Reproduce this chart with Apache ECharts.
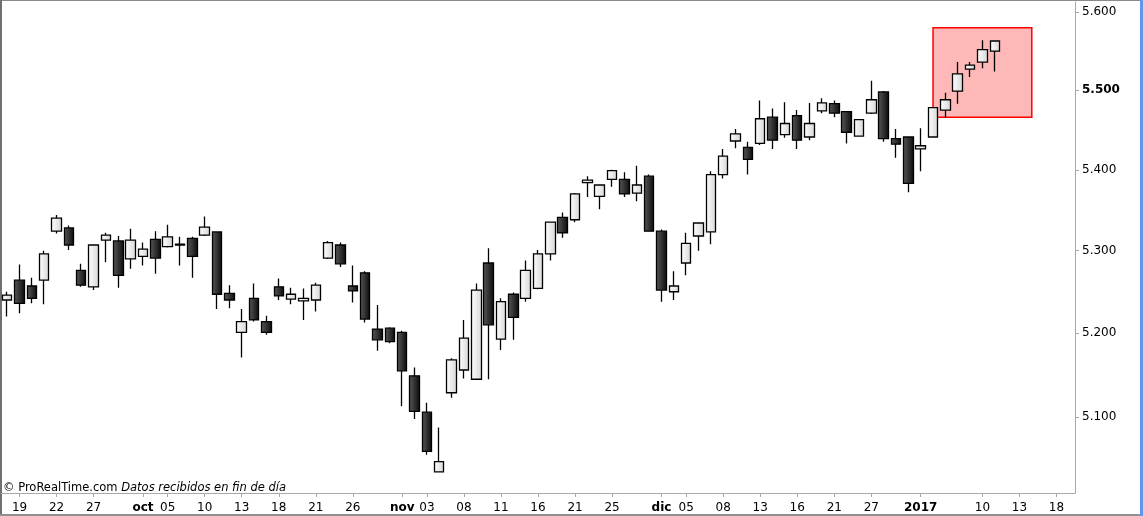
<!DOCTYPE html>
<html>
<head>
<meta charset="utf-8">
<script src="https://cdn.jsdelivr.net/npm/echarts@6/dist/echarts.min.js"></script>
<style>
html,body{margin:0;padding:0;background:#fff;}
#main{width:1143px;height:516px;}
</style>
</head>
<body>
<div id="main"></div>
<script>
// Trading days (categories), incl. empty future slots on the right
const dates = [
 '2016-09-16','2016-09-19','2016-09-20','2016-09-21','2016-09-22','2016-09-23','2016-09-26','2016-09-27','2016-09-28','2016-09-29','2016-09-30',
 '2016-10-03','2016-10-04','2016-10-05','2016-10-06','2016-10-07','2016-10-10','2016-10-11','2016-10-12','2016-10-13','2016-10-14',
 '2016-10-17','2016-10-18','2016-10-19','2016-10-20','2016-10-21','2016-10-24','2016-10-25','2016-10-26','2016-10-27','2016-10-28','2016-10-31',
 '2016-11-01','2016-11-02','2016-11-03','2016-11-04','2016-11-07','2016-11-08','2016-11-09','2016-11-10','2016-11-11',
 '2016-11-14','2016-11-15','2016-11-16','2016-11-17','2016-11-18','2016-11-21','2016-11-22','2016-11-23','2016-11-25',
 '2016-11-28','2016-11-29','2016-11-30','2016-12-01','2016-12-02','2016-12-05','2016-12-06','2016-12-07','2016-12-08','2016-12-09',
 '2016-12-12','2016-12-13','2016-12-14','2016-12-15','2016-12-16','2016-12-19','2016-12-20','2016-12-21','2016-12-22','2016-12-23',
 '2016-12-27','2016-12-28','2016-12-29','2016-12-30','2017-01-03','2017-01-04','2017-01-05','2017-01-06','2017-01-09','2017-01-10','2017-01-11',
 '2017-01-12','2017-01-13','2017-01-16','2017-01-17','2017-01-18','2017-01-19'
];
const opens = [5.240,5.264,5.257,5.264,5.324,5.328,5.276,5.256,5.313,5.312,5.290,
 5.293,5.314,5.305,5.308,5.315,5.319,5.323,5.248,5.201,5.242,
 5.214,5.256,5.241,5.239,5.240,5.291,5.307,5.257,5.273,5.205,5.206,
 5.201,5.149,5.106,5.036,5.129,5.156,5.145,5.285,5.193,
 5.247,5.242,5.254,5.296,5.341,5.338,5.384,5.367,5.388,
 5.388,5.371,5.392,5.324,5.250,5.285,5.318,5.323,5.394,5.436,
 5.428,5.433,5.466,5.444,5.468,5.441,5.474,5.483,5.473,5.442,
 5.471,5.498,5.439,5.441,5.426,5.441,5.475,5.499,5.527,5.536,5.550];
const closes = [5.246,5.236,5.242,5.296,5.340,5.307,5.258,5.307,5.319,5.270,5.313,
 5.302,5.291,5.317,5.307,5.293,5.329,5.247,5.240,5.214,5.216,
 5.201,5.245,5.247,5.242,5.258,5.310,5.284,5.251,5.217,5.192,5.190,
 5.155,5.107,5.060,5.048,5.168,5.194,5.252,5.210,5.238,
 5.219,5.276,5.296,5.335,5.322,5.370,5.387,5.381,5.399,
 5.370,5.381,5.324,5.252,5.257,5.309,5.334,5.394,5.417,5.445,
 5.413,5.464,5.437,5.458,5.437,5.458,5.484,5.471,5.447,5.463,
 5.488,5.439,5.432,5.383,5.430,5.478,5.488,5.521,5.532,5.552,5.563];
const lows = [5.220,5.224,5.236,5.235,5.321,5.301,5.256,5.252,5.286,5.255,5.278,
 5.282,5.272,5.304,5.282,5.267,5.318,5.229,5.230,5.171,5.214,
 5.198,5.240,5.235,5.216,5.226,5.290,5.280,5.237,5.213,5.179,5.188,
 5.113,5.098,5.056,5.036,5.123,5.146,5.145,5.145,5.180,
 5.192,5.238,5.253,5.288,5.316,5.335,5.366,5.351,5.379,
 5.366,5.361,5.324,5.238,5.240,5.270,5.300,5.308,5.389,5.427,
 5.394,5.431,5.426,5.440,5.426,5.437,5.471,5.466,5.433,5.442,
 5.470,5.435,5.415,5.372,5.398,5.441,5.465,5.483,5.517,5.528,5.524];
const highs = [5.250,5.283,5.267,5.300,5.344,5.331,5.284,5.308,5.322,5.318,5.327,
 5.310,5.324,5.332,5.317,5.317,5.342,5.323,5.258,5.229,5.260,
 5.221,5.266,5.255,5.254,5.261,5.312,5.310,5.282,5.275,5.234,5.207,
 5.203,5.159,5.117,5.088,5.170,5.216,5.260,5.303,5.242,
 5.249,5.288,5.301,5.336,5.347,5.371,5.392,5.382,5.400,
 5.397,5.405,5.394,5.326,5.275,5.322,5.335,5.398,5.426,5.451,
 5.435,5.487,5.477,5.485,5.475,5.484,5.490,5.487,5.473,5.463,
 5.512,5.499,5.451,5.442,5.452,5.478,5.497,5.536,5.536,5.564,5.564];

// Axis ticks / labels
const yTicks = [5.1, 5.2, 5.3, 5.4, 5.5, 5.6];
const xTickDates = ['2016-09-19','2016-09-22','2016-09-27','2016-10-03','2016-10-05','2016-10-10','2016-10-13','2016-10-18','2016-10-21','2016-10-26',
 '2016-11-01','2016-11-03','2016-11-08','2016-11-11','2016-11-16','2016-11-21','2016-11-25',
 '2016-12-01','2016-12-05','2016-12-08','2016-12-13','2016-12-16','2016-12-21','2016-12-27',
 '2017-01-03','2017-01-10','2017-01-13','2017-01-18'];
const xTickLabels = ['19','22','27','oct','05','10','13','18','21','26',
 'nov','03','08','11','16','21','25',
 'dic','05','08','13','16','21','27',
 '2017','10','13','18'];
const boldLabels = ['oct','nov','dic','2017'];

// Highlight box
const boxStart = '2017-01-04', boxEnd = '2017-01-16';
const boxTop = 5.580, boxBottom = 5.466;

const ohlc = opens.map((o, i) => [o, closes[i], lows[i], highs[i]]);
const labelMap = {};
xTickDates.forEach((d, i) => labelMap[d] = xTickLabels[i]);

const FONT = 'DejaVu Sans';
const chart = echarts.init(document.getElementById('main'));
chart.setOption({
  animation: false,
  backgroundColor: '#ffffff',
  title: {
    text: '{a|© ProRealTime.com }{i|Datos recibidos en fin de día}',
    left: 3, top: 482, padding: 0,
    textStyle: {
      fontWeight: 'normal',
      rich: {
        a: {fontFamily: FONT, fontSize: 11.5, fontWeight: 'normal', color: '#000'},
        i: {fontFamily: FONT, fontSize: 11.5, fontWeight: 'normal', fontStyle: 'italic', color: '#000'}
      }
    }
  },
  grid: {left: 1, right: 68, top: 2, bottom: 23, containLabel: false},
  xAxis: {
    type: 'category',
    data: dates,
    boundaryGap: true,
    axisLine: {show: true, lineStyle: {color: '#a8a8a8', width: 1}},
    axisTick: {
      show: true, alignWithLabel: true, length: 4,
      interval: (idx, val) => labelMap[val] !== undefined,
      lineStyle: {color: '#a8a8a8'}
    },
    axisLabel: {
      interval: (idx, val) => labelMap[val] !== undefined,
      margin: 9,
      fontFamily: FONT, fontSize: 12, color: '#000',
      formatter: (val) => {
        const t = labelMap[val];
        if (t === undefined) return '';
        return boldLabels.indexOf(t) >= 0 ? '{b|' + t + '}' : t;
      },
      rich: {b: {fontFamily: FONT, fontSize: 12, fontWeight: 'bold', color: '#000'}}
    },
    splitLine: {show: false}
  },
  yAxis: {
    type: 'log',
    logBase: 10,
    position: 'right',
    min: 5.0116,
    max: 5.6133,
    axisLine: {show: true, lineStyle: {color: '#a8a8a8', width: 1}},
    axisTick: {show: true, length: 4, customValues: yTicks, lineStyle: {color: '#a8a8a8'}},
    minorTick: {show: false},
    axisLabel: {
      customValues: yTicks,
      margin: 7,
      fontFamily: FONT, fontSize: 12, color: '#000',
      formatter: (v) => {
        const s = Number(v).toFixed(3);
        return Math.abs(v - 5.5) < 1e-6 ? '{b|' + s + '}' : s;
      },
      rich: {b: {fontFamily: FONT, fontSize: 12, fontWeight: 'bold', color: '#000'}}
    },
    splitLine: {show: false}
  },
  series: [{
    type: 'candlestick',
    data: ohlc,
    barWidth: 10,
    z: 3,
    itemStyle: {
      color: new echarts.graphic.LinearGradient(0, 0, 1, 0, [
        {offset: 0, color: '#ffffff'}, {offset: 1, color: '#d6d6d6'}]),
      color0: new echarts.graphic.LinearGradient(0, 0, 1, 0, [
        {offset: 0, color: '#5a5a5a'}, {offset: 1, color: '#0a0a0a'}]),
      borderColor: '#000',
      borderColor0: '#000',
      borderWidth: 1.3
    },
    markArea: {
      silent: true,
      z: 1,
      itemStyle: {color: 'rgba(255,0,0,0.28)', borderColor: '#ff0000', borderWidth: 1.5},
      data: [[{xAxis: boxStart, yAxis: boxTop}, {xAxis: boxEnd, yAxis: boxBottom}]]
    }
  }],
  graphic: [
    {type: 'rect', left: 0, top: 0, shape: {width: 1143, height: 1}, style: {fill: '#8a8a8a'}, silent: true},
    {type: 'rect', left: 0, top: 0, shape: {width: 2, height: 516}, style: {fill: '#707070'}, silent: true},
    {type: 'rect', left: 0, top: 514, shape: {width: 1143, height: 2}, style: {fill: '#909090'}, silent: true},
    {type: 'rect', left: 1140, top: 0, shape: {width: 3, height: 516}, style: {fill: '#6495ed'}, silent: true}
  ]
});
</script>
</body>
</html>
